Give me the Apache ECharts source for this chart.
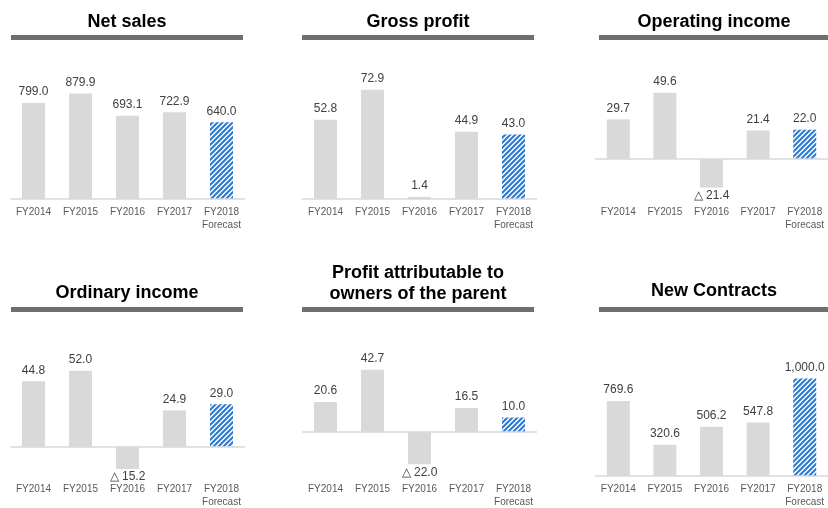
<!DOCTYPE html>
<html>
<head>
<meta charset="utf-8">
<script src="https://cdn.jsdelivr.net/npm/echarts@6/dist/echarts.min.js"></script>
<style>
html,body{margin:0;padding:0;background:#fff;}
#c{width:828px;height:508px;}
</style>
</head>
<body>
<div id="c"></div>
<script>
// ---- data ----
var categories = ['FY2014', 'FY2015', 'FY2016', 'FY2017', 'FY2018\nForecast'];
var titles = ['Net sales', 'Gross profit', 'Operating income', 'Ordinary income', 'Profit attributable to\nowners of the parent', 'New Contracts'];
var netSales = [799.0, 879.9, 693.1, 722.9, 640.0];
var grossProfit = [52.8, 72.9, 1.4, 44.9, 43.0];
var operatingIncome = [29.7, 49.6, -21.4, 21.4, 22.0];
var ordinaryIncome = [44.8, 52.0, -15.2, 24.9, 29.0];
var profitOwners = [20.6, 42.7, -22.0, 16.5, 10.0];
var newContracts = [769.6, 320.6, 506.2, 547.8, 1000.0];

var seriesData = [netSales, grossProfit, operatingIncome, ordinaryIncome, profitOwners, newContracts];
var yMin = [0, 0, -30, -20, -30, 0];
var yMax = [1000, 80, 60, 60, 50, 1200];

// ---- layout ----
var gridLefts = [10, 302, 595];
var gridTops = [79, 359];
var gridW = 235, gridH = 120;
var barLefts = [11, 302, 599];
var barWidths = [232, 232, 231];
var barTops = [35, 307];
var titleCenters = [127, 418, 714];
var titleY = [[22, 22, 22], [293, 284, 291]];

// hatch pattern
var pc = document.createElement('canvas');
pc.width = 5; pc.height = 5;
var ctx = pc.getContext('2d');
ctx.fillStyle = '#ffffff';
ctx.fillRect(0, 0, 5, 5);
ctx.strokeStyle = '#2b7bd2';
ctx.lineWidth = 2.1;
ctx.beginPath();
ctx.moveTo(-1, 6); ctx.lineTo(6, -1);
ctx.moveTo(-3.5, 3.5); ctx.lineTo(3.5, -3.5);
ctx.moveTo(1.5, 8.5); ctx.lineTo(8.5, 1.5);
ctx.stroke();

function fmt(v) {
  var s = Math.abs(v).toLocaleString('en-US', {minimumFractionDigits: 1, maximumFractionDigits: 1});
  return v < 0 ? '\u25B3 ' + s : s;
}

var grids = [], xAxes = [], yAxes = [], series = [], graphics = [];
for (var i = 0; i < 6; i++) {
  var row = Math.floor(i / 3), col = i % 3;
  grids.push({left: gridLefts[col], top: gridTops[row], width: gridW, height: gridH, containLabel: false});
  xAxes.push({
    type: 'category', gridIndex: i, data: categories,
    axisLine: {show: false, onZero: false}, axisTick: {show: false},
    axisLabel: {color: '#595959', fontSize: 10, fontFamily: 'Liberation Sans, Arial, sans-serif', margin: 7, lineHeight: 12.5, interval: 0}
  });
  yAxes.push({
    type: 'value', gridIndex: i, min: yMin[i], max: yMax[i], show: false,
    splitLine: {show: false}
  });
  var d = seriesData[i].map(function (v, k) {
    var item = {value: v, label: v < 0 ? {position: 'bottom', distance: 2} : {position: 'top'}};
    if (k === categories.length - 1) {
      item.itemStyle = {color: {image: pc, repeat: 'repeat'}};
    }
    return item;
  });
  series.push({
    type: 'bar', xAxisIndex: i, yAxisIndex: i, data: d, barWidth: 23,
    itemStyle: {color: '#d9d9d9'},
    label: {show: true, color: '#404040', fontSize: 12, fontFamily: 'Liberation Sans, Arial, sans-serif', distance: 5,
      formatter: function (p) { return fmt(p.value); }},
    markLine: {silent: true, symbol: 'none', label: {show: false},
      lineStyle: {color: '#d9d9d9', width: 1.5, type: 'solid'},
      data: [{yAxis: 0}], animation: false},
    animation: false
  });
  graphics.push({type: 'rect', shape: {x: barLefts[col], y: barTops[row], width: barWidths[col], height: 5}, style: {fill: '#6f6f6f'}, silent: true});
  graphics.push({type: 'text', x: titleCenters[col], y: titleY[row][col],
    style: {text: titles[i], fill: '#000', font: 'bold 18px "Liberation Sans", Arial, sans-serif', textAlign: 'center', textVerticalAlign: 'middle', lineHeight: 21}, silent: true});
}

var chart = echarts.init(document.getElementById('c'), null, {renderer: 'canvas'});
chart.setOption({
  backgroundColor: '#ffffff',
  animation: false,
  grid: grids, xAxis: xAxes, yAxis: yAxes, series: series,
  graphic: graphics
});
</script>
</body>
</html>
